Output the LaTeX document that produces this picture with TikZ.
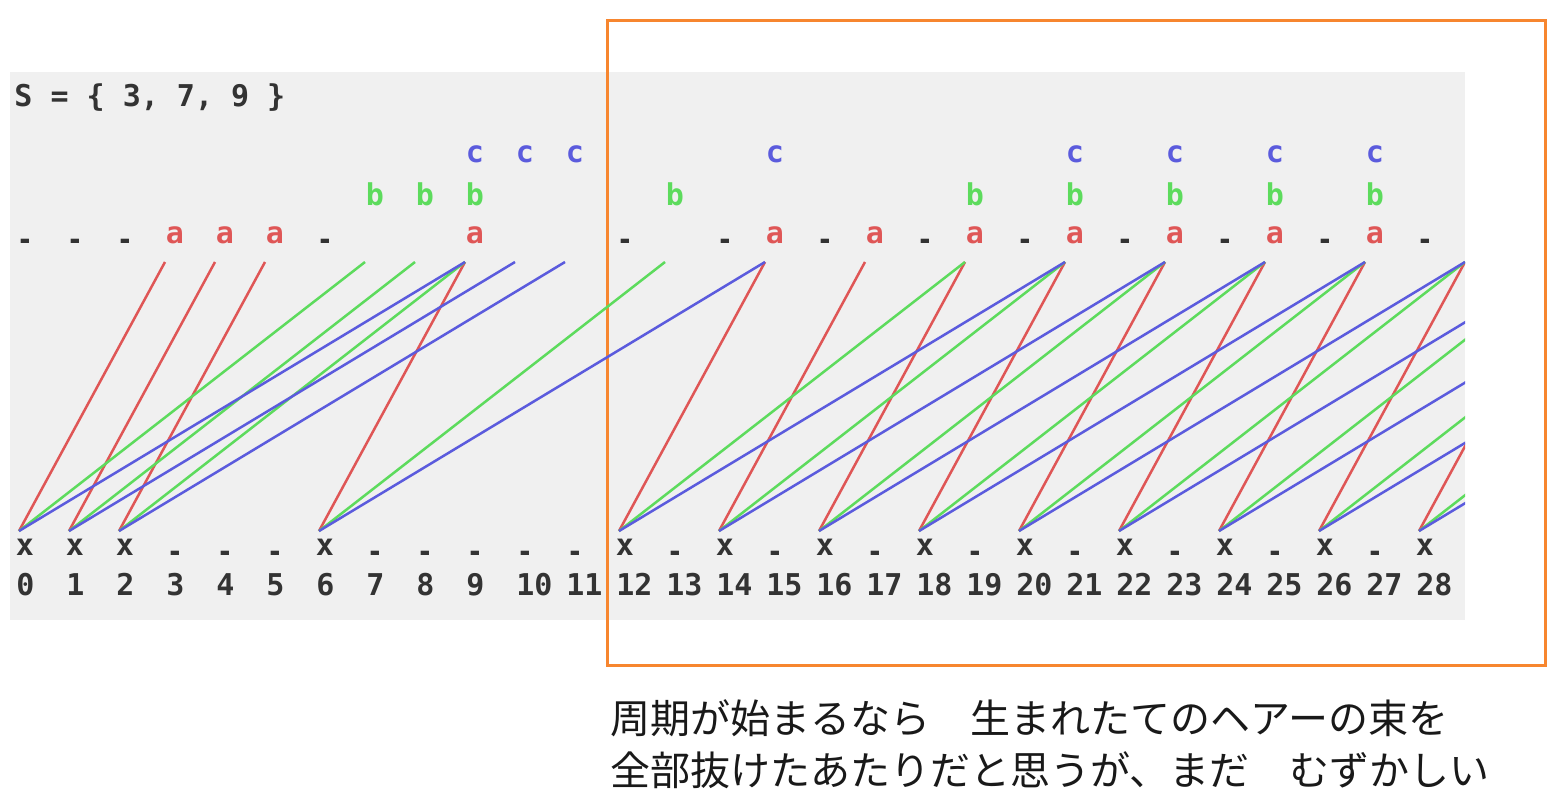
\documentclass[tikz,border=0pt]{standalone}
\usepackage{fontspec}
\newfontfamily\jpfont{Noto Sans CJK JP}
\newfontfamily\dotfont{DejaVu Sans Mono Bold}
\usetikzlibrary{positioning}
\definecolor{panegray}{HTML}{F0F0F0}
\definecolor{inkgray}{HTML}{333333}
\definecolor{hairred}{HTML}{DF5656}
\definecolor{hairgreen}{HTML}{5DDB5D}
\definecolor{hairblue}{HTML}{5B5BDD}
\definecolor{frameorange}{HTML}{F7862F}
\tikzset{
    dotlabel/.style={font=\dotfont\fontsize{15}{15}\selectfont, inner sep=0pt, anchor=base, text=inkgray},
    amark/.style={dotlabel, text=hairred},
    bmark/.style={dotlabel, text=hairgreen},
    cmark/.style={dotlabel, text=hairblue},
    numlabel/.style={dotlabel, anchor=base west},
    hair/.style={line width=1.25pt},
    notetext/.style={font=\jpfont\fontsize{20}{26}\selectfont, inner sep=0pt, anchor=base west, text=black!90}
}
\newcommand{\lowdot}{\scalebox{1.7}[0.8]{.}}

\begin{document}
\begin{tikzpicture}[x=0.5pt, y=-0.5pt]
    \useasboundingbox (0,0) rectangle (1557,805);
    \coordinate (paneNW) at (10,72);
    \coordinate (paneSE) at (1465,620);
    \fill[panegray] (paneNW) rectangle (paneSE);
    \draw[frameorange, line width=1.5pt] (607,20) rectangle (1545,665);

    \node[dotlabel, anchor=base west] (setlabel) at (14,106) {S = \{ 3, 7, 9 \}};

    % ends of the hairs, one pair per column
    \foreach \i in {0,...,37} {
        \coordinate (lo\i) at ({19+50*\i},531);
        \coordinate (hi\i) at ({15+50*\i},262);
    }

    \begin{scope}
        \clip (paneNW) rectangle (paneSE);
        \foreach \col/\d in {hairred/3,hairgreen/7,hairblue/9}
            \foreach \i in {0,1,2,6,12,14,16,18,20,22,24,26,28} {
                \pgfmathtruncatemacro\j{\i+\d}
                \draw[hair, \col] (lo\i) -- (hi\j);
            }
    \end{scope}

    % marks above and below
    \foreach \i in {0,1,2,6,12,14,16,18,20,22,24,26,28} {
        \node[dotlabel] (x\i) at ({25+50*\i},555) {x};
        \node[dotlabel] (top\i) at ({25+50*\i},243) {\lowdot};
    }
    \foreach \i in {3,4,5,7,8,9,10,11,13,15,17,19,21,23,25,27}
        \node[dotlabel] (x\i) at ({25+50*\i},555) {\lowdot};
    \foreach \i in {3,4,5,9,15,17,19,21,23,25,27}
        \node[amark] (a\i) at ({25+50*\i},243) {a};
    \foreach \i in {7,8,9,13,19,21,23,25,27}
        \node[bmark] (b\i) at ({25+50*\i},205) {b};
    \foreach \i in {9,10,11,15,21,23,25,27}
        \node[cmark] (c\i) at ({25+50*\i},162) {c};
    \foreach \i in {0,...,28}
        \node[numlabel] (n\i) at ({16+50*\i},595) {\i};

    \node[notetext] (note1) at (610,733) {周期が始まるなら　生まれたてのヘアーの束を};
    \node[notetext] (note2) at (610,785) {全部抜けたあたりだと思うが、まだ　むずかしい};
\end{tikzpicture}
\end{document}
